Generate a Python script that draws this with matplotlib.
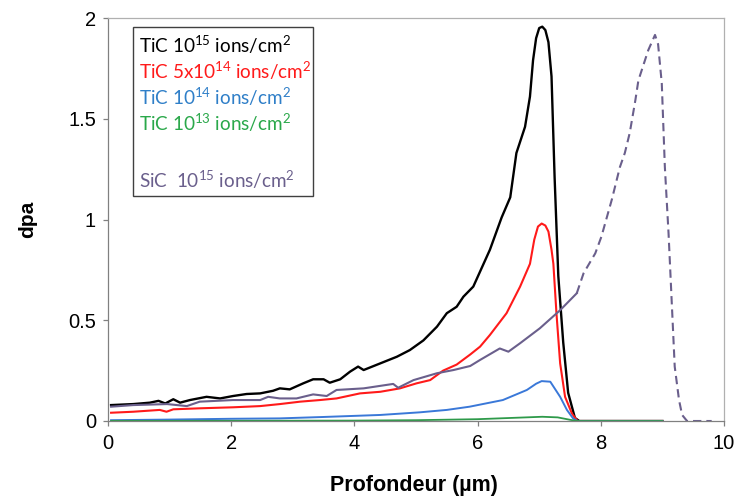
import matplotlib
matplotlib.use('Agg')
import matplotlib.pyplot as plt
from matplotlib.patches import Rectangle

plt.rcParams['mathtext.default'] = 'regular'

# depth (um) / dpa
tic15_x = [0.05, 0.41, 0.68, 0.82, 0.93, 1.06, 1.17, 1.33, 1.6, 1.82, 2.03, 2.25, 2.47, 2.68,
           2.79, 2.95, 3.17, 3.33, 3.5, 3.6, 3.77, 3.93, 4.06, 4.15, 4.42, 4.69, 4.9, 5.12,
           5.34, 5.5, 5.66, 5.77, 5.93, 6.2, 6.39, 6.53, 6.63, 6.77, 6.85, 6.9, 6.95, 7.0,
           7.05, 7.1, 7.15, 7.2, 7.25, 7.31, 7.39, 7.47, 7.58, 7.65, 9.0]
tic15_y = [0.079, 0.084, 0.091, 0.10, 0.087, 0.108, 0.091, 0.104, 0.12, 0.112, 0.124, 0.134,
           0.137, 0.15, 0.162, 0.157, 0.187, 0.207, 0.207, 0.19, 0.207, 0.245, 0.27, 0.253,
           0.286, 0.319, 0.352, 0.40, 0.468, 0.535, 0.567, 0.617, 0.667, 0.85, 1.01, 1.11,
           1.33, 1.46, 1.61, 1.79, 1.90, 1.95, 1.957, 1.94, 1.88, 1.71, 1.21, 0.72, 0.39,
           0.14, 0.015, 0.0, 0.0]

tic5e14_x = [0.05, 0.41, 0.84, 0.95, 1.06, 1.49, 2.03, 2.47, 2.79, 3.12, 3.44, 3.71, 4.09,
             4.42, 4.74, 5.01, 5.23, 5.44, 5.66, 5.88, 6.04, 6.2, 6.47, 6.69, 6.85, 6.92,
             6.98, 7.04, 7.1, 7.15, 7.2, 7.23, 7.28, 7.34, 7.42, 7.53, 7.62, 9.0]
tic5e14_y = [0.041, 0.046, 0.055, 0.046, 0.058, 0.063, 0.068, 0.074, 0.084, 0.096, 0.104,
             0.112, 0.137, 0.145, 0.162, 0.187, 0.203, 0.25, 0.28, 0.33, 0.369, 0.427, 0.535,
             0.667, 0.78, 0.90, 0.965, 0.98, 0.97, 0.94, 0.85, 0.78, 0.535, 0.286, 0.12,
             0.038, 0.0, 0.0]

tic14_x = [0.05, 1.0, 2.0, 2.79, 3.5, 4.42, 5.06, 5.5, 5.87, 6.41, 6.8, 6.95, 7.04, 7.18,
           7.34, 7.45, 7.55, 7.62, 9.0]
tic14_y = [0.004, 0.007, 0.011, 0.013, 0.02, 0.03, 0.043, 0.055, 0.071, 0.104, 0.154, 0.185,
           0.198, 0.195, 0.12, 0.055, 0.013, 0.0, 0.0]

tic13_x = [0.05, 2.0, 4.0, 5.0, 6.0, 6.7, 7.05, 7.3, 7.5, 7.62, 9.0]
tic13_y = [0.0005, 0.001, 0.002, 0.004, 0.009, 0.017, 0.021, 0.018, 0.006, 0.0, 0.0]

sic_x = [0.05, 0.41, 0.96, 1.28, 1.49, 2.03, 2.47, 2.6, 2.79, 3.06, 3.33, 3.55, 3.71, 4.15,
         4.52, 4.63, 4.71, 4.96, 5.34, 5.61, 5.88, 6.04, 6.36, 6.5, 6.69, 7.01, 7.34, 7.61,
         7.72, 7.91, 8.01, 8.18, 8.31, 8.39, 8.47, 8.56, 8.61, 8.77, 8.88, 8.93, 8.99, 9.04,
         9.1, 9.15, 9.2, 9.27, 9.32, 9.4, 9.8]
sic_y = [0.071, 0.079, 0.084, 0.074, 0.096, 0.104, 0.104, 0.12, 0.112, 0.112, 0.132, 0.124,
         0.154, 0.162, 0.179, 0.184, 0.165, 0.203, 0.237, 0.253, 0.273, 0.303, 0.36, 0.344,
         0.386, 0.46, 0.55, 0.634, 0.733, 0.832, 0.915, 1.10, 1.26, 1.33, 1.43, 1.59, 1.69,
         1.84, 1.916, 1.87, 1.675, 1.26, 0.93, 0.60, 0.27, 0.104, 0.03, 0.0, 0.0]
sic_dash_from = 7.61  # SiC curve is solid up to here, dashed beyond

labels = ['TiC 10$^{15}$ ions/cm$^{2}$', 'TiC 5x10$^{14}$ ions/cm$^{2}$',
          'TiC 10$^{14}$ ions/cm$^{2}$', 'TiC 10$^{13}$ ions/cm$^{2}$',
          'SiC  10$^{15}$ ions/cm$^{2}$']
colors = ['#000000', '#ff1a1a', '#3a78d8', '#2e9a4a', '#6a5f8c']
label_colors = ['#000000', '#ff1a1a', '#2f7fc8', '#2aa84a', '#6a5f8c']

fig = plt.figure(figsize=(7.36, 4.98), dpi=100)
ax = fig.add_axes([108 / 736, 1 - 421 / 498, 616 / 736, 403 / 498])

ax.plot(tic15_x, tic15_y, color=colors[0], lw=1.7)
ax.plot(tic5e14_x, tic5e14_y, color=colors[1], lw=1.5)
ax.plot(tic14_x, tic14_y, color=colors[2], lw=1.4)
ax.plot(tic13_x, tic13_y, color=colors[3], lw=1.3)

k = sic_x.index(sic_dash_from)
ax.plot(sic_x[:k + 1], sic_y[:k + 1], color=colors[4], lw=1.5)
ax.plot(sic_x[k:], sic_y[k:], color=colors[4], lw=1.5, dashes=(4, 2.4))

ax.set_xlim(0, 10)
ax.set_ylim(0, 2)
ax.set_xticks([0, 2, 4, 6, 8, 10])
ax.set_yticks([0, 0.5, 1, 1.5, 2])
ax.set_xticklabels(['0', '2', '4', '6', '8', '10'])
ax.set_yticklabels(['0', '0.5', '1', '1.5', '2'])

for s in ['left', 'bottom']:
    ax.spines[s].set_color('#808080')
for s in ['top', 'right']:
    ax.spines[s].set_color('#b0b0b0')
for s in ax.spines.values():
    s.set_linewidth(0.9)
ax.tick_params(direction='out', length=3.6, width=0.9, color='#808080',
               labelsize=14.5)
ax.tick_params(axis='y', pad=5)
ax.tick_params(axis='x', pad=6)
for t in ax.get_xticklabels() + ax.get_yticklabels():
    t.set_fontfamily('Liberation Sans')

ax.set_xlabel('Profondeur (µm)', fontsize=15.5, fontweight='bold',
              fontfamily='Liberation Sans', va='center')
ax.xaxis.set_label_coords(0.497, -0.161)
ax.set_ylabel('dpa', fontsize=15, fontweight='bold',
              fontfamily='Liberation Sans', va='center')
ax.yaxis.set_label_coords(-0.13, 0.5)

# hand-made legend box
ax.add_patch(Rectangle((0.0406, 0.558), 0.292, 0.42, transform=ax.transAxes,
                       fill=False, ec='#404040', lw=1.0, zorder=5))
ys = [0.933, 0.868, 0.804, 0.739, 0.598]
for lab, c, yy in zip(labels, label_colors, ys):
    ax.text(0.051, yy, lab, transform=ax.transAxes, color=c, fontsize=13.6,
            fontfamily='Lato', va='center', ha='left', zorder=6)

fig.savefig('out.png', dpi=100)
